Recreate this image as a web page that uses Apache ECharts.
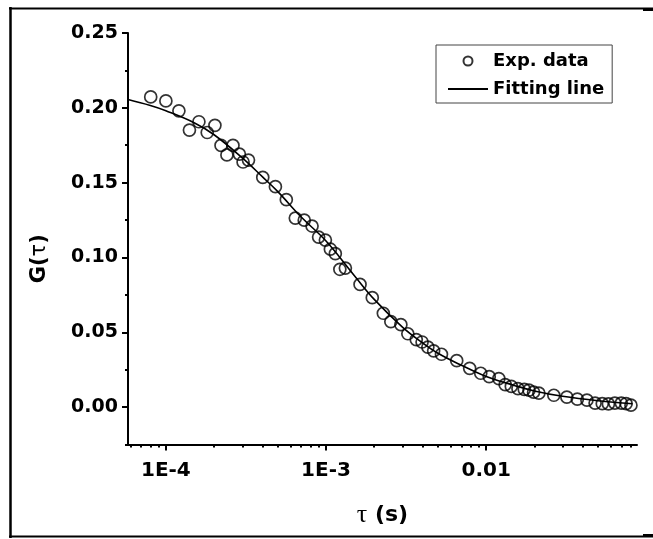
<!DOCTYPE html>
<html><head><meta charset="utf-8">
<script src="https://cdn.jsdelivr.net/npm/echarts@6/dist/echarts.min.js"></script>
<style>html,body{margin:0;padding:0;background:#fff}#c{width:653px;height:539px}</style>
</head><body><div id="c"></div>
<script>
// Experimental data: lag time tau (s) and correlation G(tau)
const tauExp = [8.04e-5, 1.0e-4, 1.206e-4, 1.403e-4, 1.608e-4, 1.812e-4, 2.024e-4, 2.21e-4, 2.624e-4, 2.405e-4,
  2.877e-4, 3.034e-4, 3.28e-4, 4.027e-4, 4.83e-4, 5.65e-4, 6.43e-4, 7.31e-4, 8.18e-4, 8.99e-4,
  9.91e-4, 1.065e-3, 1.143e-3, 1.22e-3, 1.321e-3, 1.631e-3, 1.945e-3, 2.28e-3, 2.54e-3, 2.934e-3,
  3.243e-3, 3.66e-3, 3.98e-3, 4.325e-3, 4.70e-3, 5.26e-3, 6.55e-3, 7.89e-3, 9.25e-3, 1.045e-2,
  1.2e-2, 1.315e-2, 1.436e-2, 1.58e-2, 1.73e-2, 1.851e-2, 1.977e-2, 2.134e-2, 2.646e-2, 3.19e-2,
  3.71e-2, 4.26e-2, 4.79e-2, 5.31e-2, 5.8e-2, 6.36e-2, 6.98e-2, 7.48e-2, 8.02e-2];
const gExp = [0.2073, 0.2046, 0.198, 0.1851, 0.1907, 0.1835, 0.1883, 0.1749, 0.1749, 0.1685,
  0.1691, 0.1638, 0.1651, 0.1535, 0.1473, 0.1386, 0.1263, 0.1249, 0.121, 0.1136,
  0.1116, 0.1055, 0.1025, 0.0921, 0.0929, 0.082, 0.0731, 0.0627, 0.0571, 0.0551,
  0.049, 0.0451, 0.0435, 0.0401, 0.0376, 0.0353, 0.031, 0.0259, 0.0226, 0.0203,
  0.019, 0.015, 0.0138, 0.0123, 0.0118, 0.0113, 0.010, 0.0093, 0.0079, 0.0067,
  0.0053, 0.0046, 0.0027, 0.0023, 0.0021, 0.0027, 0.0027, 0.0023, 0.0013];
// Fitting line
const tauFit = [5.8e-5, 8e-5, 1e-4, 1.5e-4, 2e-4, 3e-4, 4e-4, 5e-4, 7e-4, 1e-3, 1.5e-3, 2e-3, 3e-3, 4e-3, 5e-3, 7e-3, 1e-2, 1.5e-2, 2e-2, 3e-2, 5e-2, 8.2e-2];
const gFit = [0.2055, 0.2015, 0.198, 0.190, 0.182, 0.1665, 0.154, 0.144, 0.127, 0.111, 0.088, 0.072, 0.0535, 0.043, 0.036, 0.028, 0.0205, 0.0145, 0.0108, 0.0072, 0.0042, 0.0022];
// Axis ticks
const xMajorTicks = [1e-4, 1e-3, 1e-2];
const xMajorLabels = ['1E-4', '1E-3', '0.01'];
const xMinorTicks = [6e-5, 7e-5, 8e-5, 9e-5, 2e-4, 3e-4, 4e-4, 5e-4, 6e-4, 7e-4, 8e-4, 9e-4,
  2e-3, 3e-3, 4e-3, 5e-3, 6e-3, 7e-3, 8e-3, 9e-3, 2e-2, 3e-2, 4e-2, 5e-2, 6e-2, 7e-2, 8e-2];
const yMajorTicks = [0, 0.05, 0.10, 0.15, 0.20, 0.25];
const yMinorTicks = [-0.025, 0.025, 0.075, 0.125, 0.175, 0.225];

const X_MIN = 5.8e-5, X_MAX = 0.0875, Y_MIN = -0.025, Y_MAX = 0.25;
const FONT = 'DejaVu Sans';

const chart = echarts.init(document.getElementById('c'), null, {renderer: 'canvas'});
const lbl = {fontFamily: FONT, fontWeight: 'bold', fontSize: 19, color: '#000'};
chart.setOption({
  animation: false,
  backgroundColor: '#fff',
  grid: {left: 128, right: 16, top: 33, bottom: 94.5, containLabel: false},
  legend: {
    orient: 'vertical', left: 436, top: 45,
    padding: [6, 8, 4, 11], itemGap: 8,
    borderColor: '#444', borderWidth: 1,
    itemWidth: 40, itemHeight: 9,
    textStyle: {fontFamily: FONT, fontWeight: 'bold', fontSize: 18, color: '#000', lineHeight: 20},
    data: ['Exp. data', 'Fitting line']
  },
  xAxis: [{
    type: 'log', logBase: 10, min: X_MIN, max: X_MAX,
    axisLine: {onZero: false, lineStyle: {color: '#000', width: 2}},
    axisTick: {inside: false, length: 6, lineStyle: {color: '#000', width: 2}, customValues: xMajorTicks},
    axisLabel: Object.assign({}, lbl, {fontSize: 20, margin: 16, customValues: xMajorTicks,
      formatter: v => xMajorLabels[Math.round(Math.log10(v)) + 4]}),
    splitLine: {show: false}, minorTick: {show: false},
    name: '{t|τ}{s| (s)}', nameLocation: 'middle', nameGap: 58,
    nameTextStyle: {rich: {
      t: {fontFamily: 'Liberation Serif', fontSize: 26, color: '#000'},
      s: {fontFamily: FONT, fontWeight: 'bold', fontSize: 22, color: '#000'}
    }}
  }, {
    type: 'log', logBase: 10, min: X_MIN, max: X_MAX, position: 'bottom',
    axisLine: {show: false, onZero: false},
    axisTick: {inside: false, length: 3, lineStyle: {color: '#000', width: 2}, customValues: xMinorTicks},
    axisLabel: {show: false}, splitLine: {show: false}
  }],
  yAxis: [{
    type: 'value', min: Y_MIN, max: Y_MAX,
    axisLine: {show: true, onZero: false, lineStyle: {color: '#000', width: 2}},
    axisTick: {show: true, inside: false, length: 6, lineStyle: {color: '#000', width: 2}, customValues: yMajorTicks},
    axisLabel: Object.assign({}, lbl, {margin: 10, customValues: yMajorTicks, formatter: v => v.toFixed(2)}),
    splitLine: {show: false},
    name: '{g|G(}{t|τ}{g|)}', nameLocation: 'middle', nameGap: 78, nameRotate: 90,
    nameTextStyle: {padding: [0, 40, 0, 0], rich: {
      g: {fontFamily: FONT, fontWeight: 'bold', fontSize: 21, color: '#000'},
      t: {fontFamily: FONT, fontSize: 21, color: '#000'}
    }}
  }, {
    type: 'value', min: Y_MIN, max: Y_MAX, position: 'left',
    axisLine: {show: false, onZero: false},
    axisTick: {show: true, inside: false, length: 3, lineStyle: {color: '#000', width: 2}, customValues: yMinorTicks},
    axisLabel: {show: false}, splitLine: {show: false}
  }],
  series: [{
    name: 'Exp. data', type: 'scatter', xAxisIndex: 0, yAxisIndex: 0,
    symbol: 'circle', symbolSize: 12,
    itemStyle: {color: 'rgba(255,255,255,0)', borderColor: '#000', borderWidth: 1.7},
    data: tauExp.map((t, i) => [t, gExp[i]]), z: 3
  }, {
    name: 'Fitting line', type: 'line', xAxisIndex: 0, yAxisIndex: 0,
    smooth: 0.4, symbol: 'none', showSymbol: false,
    lineStyle: {color: '#000', width: 1.6},
    itemStyle: {color: 'rgba(0,0,0,0)', borderWidth: 0},
    data: tauFit.map((t, i) => [t, gFit[i]]), z: 2
  }],
  graphic: [
    {type: 'line', shape: {x1: 10.5, y1: 7, x2: 10.5, y2: 538}, style: {stroke: '#000', lineWidth: 2.5}},
    {type: 'line', shape: {x1: 9, y1: 8.5, x2: 653, y2: 8.5}, style: {stroke: '#000', lineWidth: 2}},
    {type: 'line', shape: {x1: 9, y1: 536.5, x2: 653, y2: 536.5}, style: {stroke: '#000', lineWidth: 2}},
    {type: 'line', shape: {x1: 643, y1: 10, x2: 653, y2: 10}, style: {stroke: '#000', lineWidth: 2}},
    {type: 'line', shape: {x1: 643, y1: 535, x2: 653, y2: 535}, style: {stroke: '#000', lineWidth: 2}}
  ]
});
</script></body></html>
